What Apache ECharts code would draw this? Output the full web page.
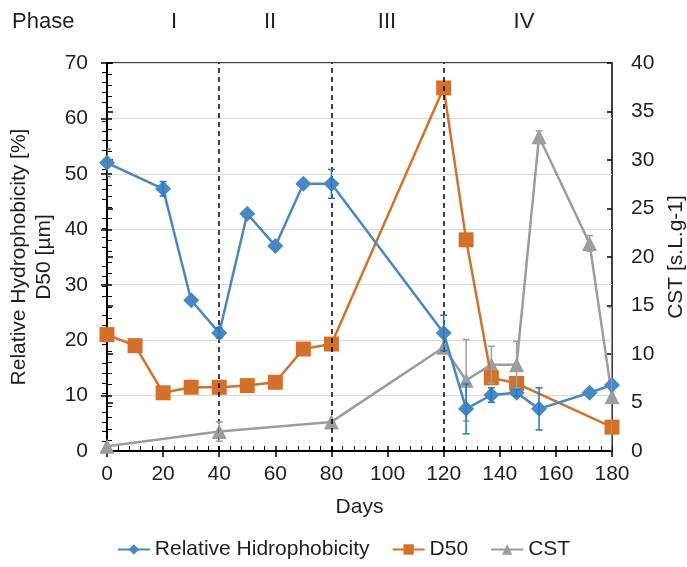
<!DOCTYPE html>
<html>
<head>
<meta charset="utf-8">
<script src="https://cdn.jsdelivr.net/npm/echarts@6/dist/echarts.min.js"></script>
<style>html,body{margin:0;padding:0;background:#fff}#c{width:687px;height:567px}</style>
</head>
<body>
<div id="c"></div>
<script>
// ---- data ----
const hydroDays = [0, 20, 30, 40, 50, 60, 70, 80, 120, 128, 137, 146, 154, 172, 180];
const hydro     = [52.0, 47.3, 27.2, 21.3, 42.8, 37.0, 48.2, 48.2, 21.3, 7.6, 10.1, 10.5, 7.6, 10.5, 11.9];
const hydroErr  = [2.5, 1.3, 0, 0.9, 0, 0, 0, 2.6, 3.2, 4.5, 1.3, 0.6, 3.8, 0, 0];

const d50Days = [0, 10, 20, 30, 40, 50, 60, 70, 80, 120, 128, 137, 146, 180];
const d50     = [21.0, 19.0, 10.5, 11.5, 11.5, 11.8, 12.4, 18.4, 19.3, 65.5, 38.1, 13.2, 12.2, 4.3];

const cstDays = [0, 40, 80, 120, 128, 137, 146, 154, 172, 180];
const cst     = [0.5, 2.0, 3.0, 10.7, 7.3, 8.9, 8.9, 32.4, 21.4, 5.6];
const cstErr  = [0, 1.0, 0, 0, 4.2, 1.9, 2.4, 0.6, 0.8, 9.2];

const phaseBounds = [40, 80, 120];
const phaseLabels = ['Phase', 'I', 'II', 'III', 'IV'];

const C_BLUE = '#4A87C2', C_ORANGE = '#D5702C', C_GRAY = '#9C9C9C';
const TXT = '#1f1f1f';
const FONT = 'Liberation Sans, Arial, sans-serif';
const FS = 21;

const pairs = (xs, ys) => xs.map((x, i) => [x, ys[i]]);
const errPairs = (xs, ys, es) => xs.map((x, i) => [x, ys[i] + es[i], ys[i] - es[i], es[i]]).filter(d => d[3] > 0);

function errRender(color) {
  return function (params, api) {
    const x = api.value(0), hi = api.value(1), lo = api.value(2);
    const a = api.coord([x, hi]), b = api.coord([x, lo]);
    const w = 3.5;
    const st = { stroke: color, lineWidth: 1.5 };
    return {
      type: 'group',
      children: [
        { type: 'line', shape: { x1: a[0], y1: a[1], x2: b[0], y2: b[1] }, style: st },
        { type: 'line', shape: { x1: a[0] - w, y1: a[1], x2: a[0] + w, y2: a[1] }, style: st },
        { type: 'line', shape: { x1: b[0] - w, y1: b[1], x2: b[0] + w, y2: b[1] }, style: st }
      ]
    };
  };
}

const chart = echarts.init(document.getElementById('c'), null, { renderer: 'canvas' });

const axisLabelStyle = { color: TXT, fontSize: FS, fontFamily: FONT };
const phaseText = (t, x, align) => ({ type: 'text', x: x, y: 22, style: { text: t, fontSize: 22, fill: TXT, fontFamily: FONT, align: align, verticalAlign: 'middle' } });

const option = {
  animation: false,
  textStyle: { fontFamily: FONT },
  grid: { left: 107, right: 75, top: 63, bottom: 116, outerBoundsMode: 'none', containLabel: false,
          show: true, borderColor: '#000', borderWidth: 1.5, backgroundColor: 'transparent' },
  graphic: [
    phaseText(phaseLabels[0], 12, 'left'),
    phaseText(phaseLabels[1], 174, 'center'),
    phaseText(phaseLabels[2], 270, 'center'),
    phaseText(phaseLabels[3], 387, 'center'),
    phaseText(phaseLabels[4], 524, 'center')
  ],
  legend: {
    bottom: 2,
    left: 'center',
    itemWidth: 32,
    itemHeight: 13,
    itemGap: 22,
    textStyle: { color: TXT, fontSize: FS, fontFamily: FONT },
    data: ['Relative Hidrophobicity', 'D50', 'CST']
  },
  xAxis: [
    {
      type: 'value', min: 0, max: 180, interval: 20,
      name: 'Days', nameLocation: 'middle', nameGap: 46, nameMoveOverlap: false,
      nameTextStyle: { color: TXT, fontSize: FS, fontFamily: FONT },
      axisLine: { lineStyle: { color: '#000', width: 2 } },
      axisTick: { show: true, inside: false, length: 6, lineStyle: { color: '#000', width: 1.5 } },
      minorTick: { show: true, splitNumber: 5, length: -5, lineStyle: { color: '#000', width: 1 } },
      axisLabel: Object.assign({ margin: 13, showMaxLabel: true, showMinLabel: true, hideOverlap: false }, axisLabelStyle),
      splitLine: { show: false }
    },
    {
      type: 'value', min: 0, max: 180, interval: 20, position: 'bottom',
      axisLine: { show: false },
      axisTick: { show: true, inside: true, length: 5, lineStyle: { color: '#000', width: 1.5 } },
      axisLabel: { show: false }, splitLine: { show: false }
    }
  ],
  yAxis: [
    {
      type: 'value', min: 0, max: 70, interval: 10, position: 'left',
      name: 'Relative Hydrophobicity [%]\nD50 [µm]', nameLocation: 'middle', nameRotate: 90, nameGap: 50, nameMoveOverlap: false,
      nameTextStyle: { color: TXT, fontSize: FS, fontFamily: FONT, lineHeight: 25 },
      axisLine: { show: true, lineStyle: { color: '#000', width: 2 } },
      axisTick: { show: true, inside: false, length: 6, lineStyle: { color: '#000', width: 1.5 } },
      minorTick: { show: true, splitNumber: 5, length: -5, lineStyle: { color: '#000', width: 1 } },
      axisLabel: Object.assign({ margin: 19 }, axisLabelStyle),
      splitLine: { show: true, lineStyle: { color: '#D9D9D9', width: 1 } }
    },
    {
      type: 'value', min: 0, max: 40, interval: 5, position: 'right',
      name: 'CST [s.L.g-1]', nameLocation: 'middle', nameRotate: 90, nameGap: 54, nameMoveOverlap: false,
      nameTextStyle: { color: TXT, fontSize: FS, fontFamily: FONT },
      axisLine: { show: true, lineStyle: { color: '#000', width: 2 } },
      axisTick: { show: true, inside: false, length: 6, lineStyle: { color: '#000', width: 1.5 } },
      minorTick: { show: true, splitNumber: 5, length: -5, lineStyle: { color: '#000', width: 1 } },
      axisLabel: Object.assign({ margin: 19 }, axisLabelStyle),
      splitLine: { show: false }
    },
    {
      type: 'value', min: 0, max: 70, interval: 10, position: 'left',
      axisLine: { show: false },
      axisTick: { show: true, inside: true, length: 5, lineStyle: { color: '#000', width: 1.5 } },
      axisLabel: { show: false }, splitLine: { show: false }
    },
    {
      type: 'value', min: 0, max: 40, interval: 5, position: 'right',
      axisLine: { show: false },
      axisTick: { show: true, inside: true, length: 5, lineStyle: { color: '#000', width: 1.5 } },
      axisLabel: { show: false }, splitLine: { show: false }
    }
  ],
  series: [
    {
      name: 'phase-lines', type: 'line', data: [], yAxisIndex: 0,
      markLine: {
        silent: true, symbol: 'none', label: { show: false },
        lineStyle: { color: '#000', type: [5, 4], width: 1.5 },
        data: phaseBounds.map(v => ({ xAxis: v }))
      }
    },
    {
      name: 'CST', type: 'line', yAxisIndex: 1, data: pairs(cstDays, cst),
      symbol: 'triangle', symbolSize: 15,
      itemStyle: { color: C_GRAY }, lineStyle: { color: C_GRAY, width: 2.5 }, z: 3
    },
    {
      name: 'D50', type: 'line', yAxisIndex: 0, data: pairs(d50Days, d50),
      symbol: 'rect', symbolSize: 15,
      itemStyle: { color: C_ORANGE }, lineStyle: { color: C_ORANGE, width: 2.5 }, z: 4
    },
    {
      name: 'Relative Hidrophobicity', type: 'line', yAxisIndex: 0, data: pairs(hydroDays, hydro),
      symbol: 'diamond', symbolSize: 16,
      itemStyle: { color: C_BLUE }, lineStyle: { color: C_BLUE, width: 2.5 }, z: 5
    },
    {
      name: 'cst-err', type: 'custom', yAxisIndex: 1, clip: true, z: 6,
      data: errPairs(cstDays, cst, cstErr), encode: { x: 0, y: [1, 2] },
      renderItem: errRender('#A0A0A0')
    },
    {
      name: 'hydro-err', type: 'custom', yAxisIndex: 0, clip: true, z: 6,
      data: errPairs(hydroDays, hydro, hydroErr), encode: { x: 0, y: [1, 2] },
      renderItem: errRender('#1F78C8')
    }
  ]
};
chart.setOption(option);
</script>
</body>
</html>
